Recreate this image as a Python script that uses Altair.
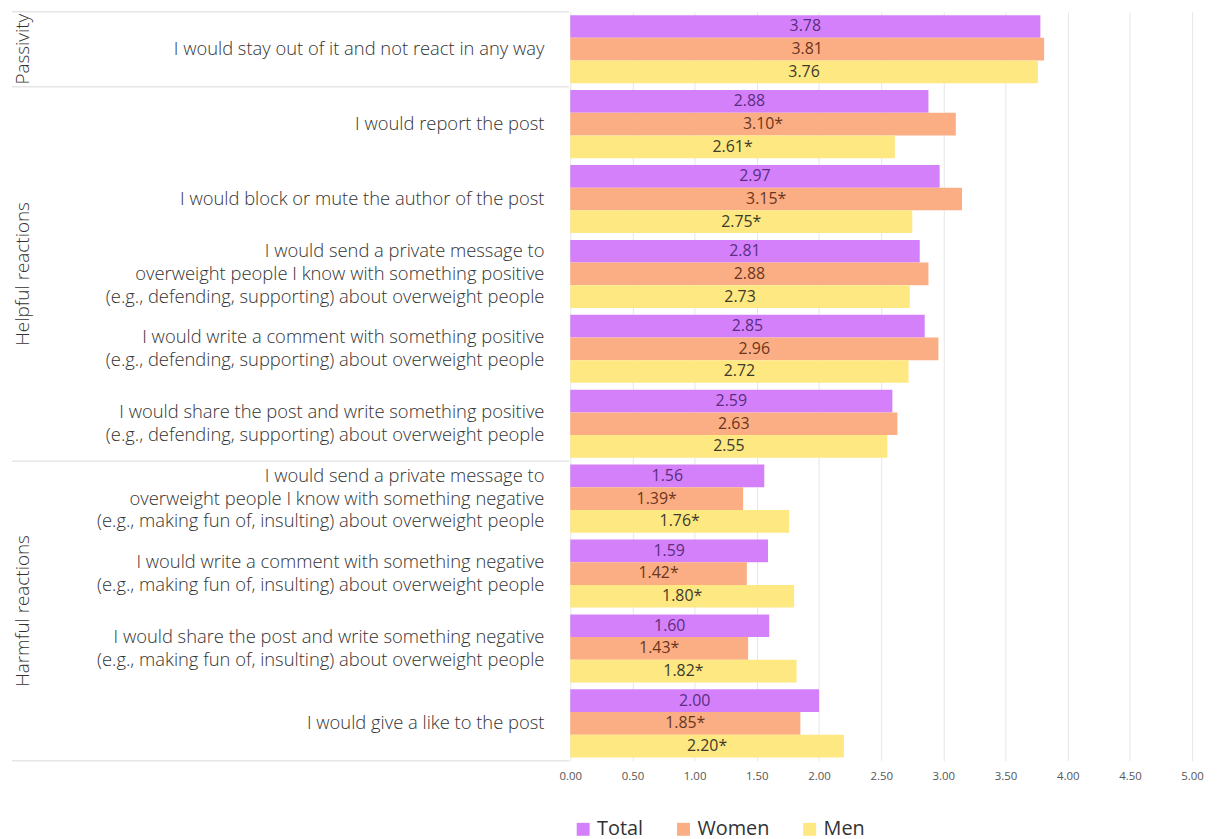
import altair as alt
import pandas as pd

items = [
    "I would stay out of it and not react in any way",
    "I would report the post",
    "I would block or mute the author of the post",
    "I would send a private message to|overweight people I know with something positive|(e.g., defending, supporting) about overweight people",
    "I would write a comment with something positive|(e.g., defending, supporting) about overweight people",
    "I would share the post and write something positive|(e.g., defending, supporting) about overweight people",
    "I would send a private message to|overweight people I know with something negative|(e.g., making fun of, insulting) about overweight people",
    "I would write a comment with something negative|(e.g., making fun of, insulting) about overweight people",
    "I would share the post and write something negative|(e.g., making fun of, insulting) about overweight people",
    "I would give a like to the post",
]
groups = ["Passivity", "Helpful reactions", "Harmful reactions"]
group_sizes = [1, 5, 4]

series = ["Total", "Women", "Men"]
total = [3.78, 2.88, 2.97, 2.81, 2.85, 2.59, 1.56, 1.59, 1.60, 2.00]
women = [3.81, 3.10, 3.15, 2.88, 2.96, 2.63, 1.39, 1.42, 1.43, 1.85]
men = [3.76, 2.61, 2.75, 2.73, 2.72, 2.55, 1.76, 1.80, 1.82, 2.20]
women_sig = [0, 1, 1, 0, 0, 0, 1, 1, 1, 1]
men_sig = [0, 1, 1, 0, 0, 0, 1, 1, 1, 1]
total_sig = [0] * 10

bar_colors = ["#d480fa", "#fbae83", "#fde882"]
text_colors = ["#5a2d80", "#6b3520", "#3d3a2a"]
x_ticks = [0, 0.5, 1, 1.5, 2, 2.5, 3, 3.5, 4, 4.5, 5]

rows = []
for s, vals, sig in zip(series, [total, women, men], [total_sig, women_sig, men_sig]):
    for i, (v, f) in enumerate(zip(vals, sig)):
        rows.append({"key": f"Q{i+1:02d}", "series": s, "value": v,
                     "label": f"{v:.2f}" + ("*" if f else "")})
bars_df = pd.DataFrame(rows)
keys = [f"Q{i+1:02d}" for i in range(len(items))]

items_df = pd.DataFrame({"text": items, "pos": [i + 0.5 for i in range(len(items))]})

bounds = [0]
for n in group_sizes:
    bounds.append(bounds[-1] + n)
sep_df = pd.DataFrame({"b": bounds})
grp_df = pd.DataFrame({"group": groups, "start": bounds[:-1], "end": bounds[1:]})

W, H = 626, 754
FONT = "Open Sans"
LH = 23

yband = alt.Y("key:N", sort=keys, axis=None,
              scale=alt.Scale(paddingInner=0, paddingOuter=0))
yoff = alt.YOffset("series:N", sort=series,
                   scale=alt.Scale(paddingInner=0, paddingOuter=0.15))
xq = alt.X("value:Q", scale=alt.Scale(domain=[0, 5], nice=False),
           axis=alt.Axis(values=x_ticks, format=".2f", title=None, domain=False,
                         ticks=False, grid=True, gridColor="#e6e6e6",
                         labelFontSize=11.5, labelColor="#555555", labelPadding=10,
                         labelFont=FONT, labelFlush=False))

bars = alt.Chart(bars_df).mark_bar().encode(
    x=xq,
    y=yband,
    yOffset=yoff,
    color=alt.Color("series:N", sort=series,
                    scale=alt.Scale(domain=series, range=bar_colors),
                    legend=alt.Legend(title=None, orient="none", direction="horizontal",
                                      legendX=3, legendY=813, symbolType="square",
                                      symbolSize=169, symbolStrokeWidth=0,
                                      labelFontSize=20, labelColor="#333333",
                                      labelFont=FONT, labelOffset=4,
                                      columnPadding=30)),
)

labels = alt.Chart(bars_df).transform_calculate(mid="datum.value/2").mark_text(
    font=FONT, fontSize=16, baseline="middle", align="center"
).encode(
    x=alt.X("mid:Q"),
    y=yband,
    yOffset=yoff,
    text="label:N",
    color=alt.Color("series:N", sort=series,
                    scale=alt.Scale(domain=series, range=text_colors), legend=None),
)

right = alt.layer(bars, labels).resolve_scale(color="independent")

yq = alt.Scale(domain=[0, len(items)], reverse=True, nice=False, zero=False)


def item_layer(n):
    return alt.Chart(items_df).transform_calculate(
        nl="length(split(datum.text, '|'))"
    ).transform_filter(f"datum.nl == {n}").mark_text(
        font=FONT, fontSize=18.5, align="right", baseline="middle", lineBreak="|",
        lineHeight=LH, color="#333333", fontWeight=300, dy=-(n - 1) * LH / 2
    ).encode(
        x=alt.value(-26),
        y=alt.Y("pos:Q", scale=yq, axis=None),
        text="text:N",
    )


seps = alt.Chart(sep_df).mark_rule(color="#e6e6e6", strokeWidth=1.5).encode(
    x=alt.value(-562), x2=alt.value(-1),
    y=alt.Y("b:Q", scale=yq, axis=None),
)

grp_text = alt.Chart(grp_df).transform_calculate(
    mid="(datum.start + datum.end)/2"
).mark_text(font=FONT, fontSize=19, angle=270, align="center", baseline="middle",
            color="#333333", fontWeight=300).encode(
    x=alt.value(-551),
    y=alt.Y("mid:Q", scale=yq, axis=None),
    text="group:N",
)

left = alt.layer(seps, item_layer(1), item_layer(2), item_layer(3), grp_text)

chart = alt.layer(left, right).resolve_scale(y="independent", color="independent").properties(
    width=W, height=H,
    padding={"left": 3, "top": 0, "right": 5, "bottom": 5},
).configure_view(stroke=None)

chart.save("out.html", embed_options={"renderer": "svg", "actions": False})
